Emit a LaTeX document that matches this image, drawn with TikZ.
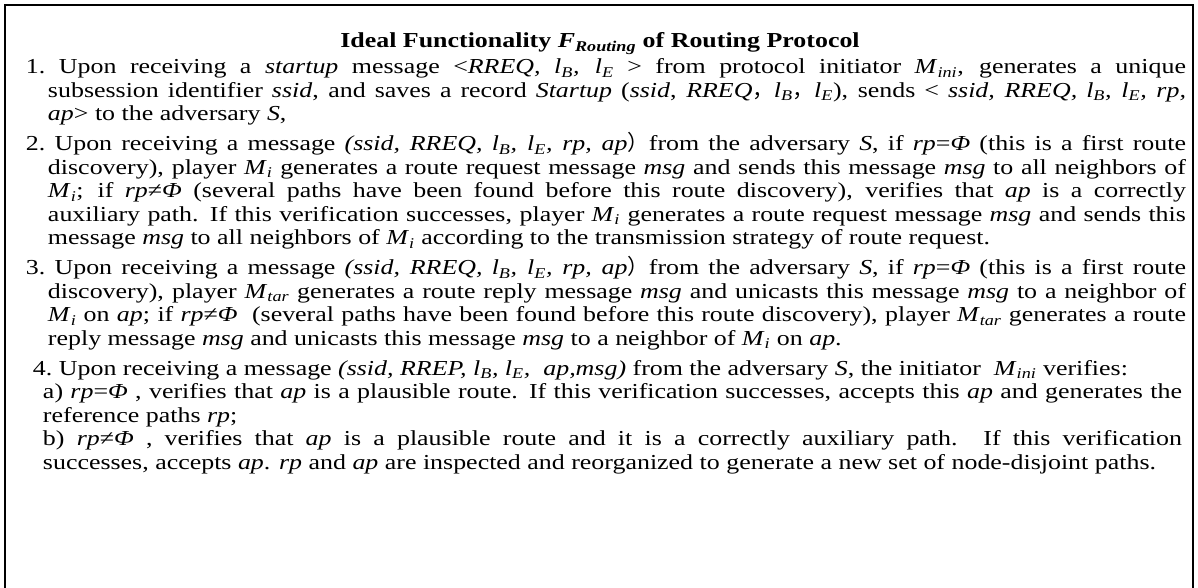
\documentclass[tikz,border=0pt]{standalone}
\usepackage{fontspec}
\setmainfont[FakeStretch=1.215]{Liberation Serif}
\newfontfamily\cjk{Noto Sans CJK SC}
\usetikzlibrary{positioning}
\tolerance=10000
\hbadness=10000

% italic letter with italic subscript
\newcommand{\lsub}[2]{\textit{#1}\textsubscript{\textit{#2}}}
\newcommand{\fwcomma}{\smash{\cjk ，}}
\newcommand{\fwparen}{\smash{\cjk ）}}
\newcommand{\Ph}{\textit{Φ}}

\begin{document}
\begin{tikzpicture}[
    x=0.75pt, y=0.75pt,
    node distance=4.5pt,
    bodyfont/.style={font=\fontsize{16}{17.625}\selectfont},
    itembox/.style={bodyfont, inner sep=0pt, text width=870pt, align=justify},
    titlebox/.style={bodyfont, inner sep=0pt, anchor=base},
    frame/.style={line width=1.6pt}
]
    \useasboundingbox (0,0) rectangle (1198,-588);
    \draw[frame] (5,-588) |- (1193,-5) -- (1193,-588);

    \node[titlebox] (title) at (600,-48) {\strut\textbf{Ideal Functionality \textit{F}\textsubscript{\textit{Routing}} of Routing Protocol}};

    \node[itembox, below=1.2pt of title, xshift=4.5pt] (rstart) {\hangindent=16.5pt\hangafter=1\strut 1.\ Upon receiving a \textit{startup} message <\textit{RREQ, }\lsub{l}{B}\textit{, }\lsub{l}{E} > from protocol initiator \lsub{M}{ini}, generates a unique\linebreak
    subsession identifier \textit{ssid}, and saves a record \textit{Startup} (\textit{ssid}, \textit{RREQ}\fwcomma\lsub{l}{B}\fwcomma\lsub{l}{E}), sends < \textit{ssid, RREQ, }\lsub{l}{B}\textit{, }\lsub{l}{E}\textit{, rp,}\linebreak
    \textit{ap}> to the adversary \textit{S},\strut\par};

    \node[itembox, below=of rstart] (rreq) {\hangindent=16.5pt\hangafter=1\strut 2.\ Upon receiving a message \textit{(ssid, RREQ, }\lsub{l}{B}\textit{, }\lsub{l}{E}\textit{, rp, ap}\fwparen{}from the adversary \textit{S}, if \textit{rp}=\Ph{} (this is a first route\linebreak
    discovery), player \lsub{M}{i} generates a route request message \textit{msg} and sends this message \textit{msg} to all neighbors of\linebreak
    \lsub{M}{i}; if \textit{rp}≠\Ph{} (several paths have been found before this route discovery), verifies that \textit{ap} is a correctly\linebreak
    auxiliary path. If this verification successes, player \lsub{M}{i} generates a route request message \textit{msg} and sends this\linebreak
    message \textit{msg} to all neighbors of \lsub{M}{i} according to the transmission strategy of route request.\strut\par};

    \node[itembox, below=of rreq] (rrep) {\hangindent=16.5pt\hangafter=1\strut 3.\ Upon receiving a message \textit{(ssid, RREQ, }\lsub{l}{B}\textit{, }\lsub{l}{E}\textit{, rp, ap}\fwparen{}from the adversary \textit{S}, if \textit{rp}=\Ph{} (this is a first route\linebreak
    discovery), player \lsub{M}{tar} generates a route reply message \textit{msg} and unicasts this message \textit{msg} to a neighbor of\linebreak
    \lsub{M}{i} on \textit{ap}; if \textit{rp}≠\Ph{}\ \ (several paths have been found before this route discovery), player \lsub{M}{tar} generates a route\linebreak
    reply message \textit{msg} and unicasts this message \textit{msg} to a neighbor of \lsub{M}{i} on \textit{ap}.\strut\par};

    \node[itembox, below=of rrep] (verify) {\rightskip=3pt\hangindent=12.75pt\hangafter=1\strut\hspace*{5.25pt}4.\ Upon receiving a message \textit{(ssid, RREP, }\lsub{l}{B}\textit{, }\lsub{l}{E}\textit{,\ \ ap,msg)} from the adversary \textit{S}, the initiator\ \ \lsub{M}{ini} verifies:\\
    a) \textit{rp}=\Ph{} , verifies that \textit{ap} is a plausible route. If this verification successes, accepts this \textit{ap} and generates the\linebreak
    reference paths \textit{rp};\\
    b) \textit{rp}≠\Ph{} , verifies that \textit{ap} is a plausible route and it is a correctly auxiliary path. If this verification\linebreak
    successes, accepts \textit{ap}. \textit{rp} and \textit{ap} are inspected and reorganized to generate a new set of node-disjoint paths.\strut\par};
\end{tikzpicture}
\end{document}
